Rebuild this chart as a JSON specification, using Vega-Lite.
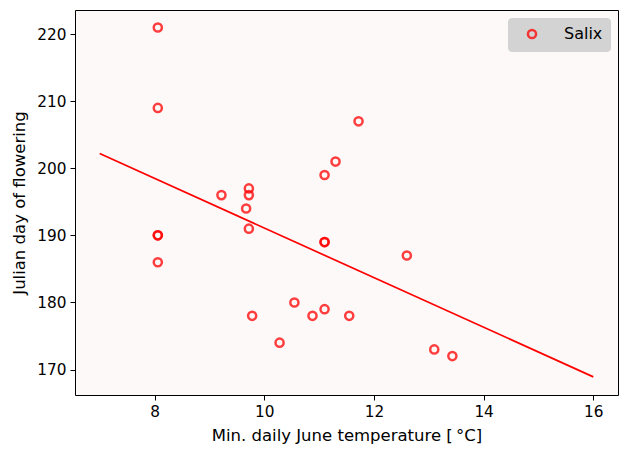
{
  "$schema": "https://vega.github.io/schema/vega-lite/v6.json",
  "autosize": {"type": "none"},
  "padding": {"left": 75, "top": 10, "right": 9, "bottom": 65},
  "width": 543,
  "height": 385,
  "background": "white",
  "config": {
    "font": "DejaVu Sans",
    "view": {"stroke": "black", "strokeWidth": 1, "fill": "#fdf9f9"},
    "axis": {
      "grid": false,
      "domain": false,
      "tickColor": "black",
      "tickSize": 5,
      "labelPadding": 4,
      "labelFontSize": 15.3,
      "labelColor": "black",
      "titleFontSize": 16.5,
      "titleFontWeight": "normal",
      "titleColor": "black"
    }
  },
  "datasets": {
    "obs": [
      {"temp": 8.06, "doy": 221, "species": "Salix"},
      {"temp": 8.06, "doy": 209, "species": "Salix"},
      {"temp": 8.06, "doy": 190, "species": "Salix"},
      {"temp": 8.06, "doy": 190, "species": "Salix"},
      {"temp": 8.06, "doy": 186, "species": "Salix"},
      {"temp": 9.22, "doy": 196, "species": "Salix"},
      {"temp": 9.72, "doy": 197, "species": "Salix"},
      {"temp": 9.72, "doy": 196, "species": "Salix"},
      {"temp": 9.67, "doy": 194, "species": "Salix"},
      {"temp": 9.72, "doy": 191, "species": "Salix"},
      {"temp": 9.78, "doy": 178, "species": "Salix"},
      {"temp": 10.28, "doy": 174, "species": "Salix"},
      {"temp": 10.55, "doy": 180, "species": "Salix"},
      {"temp": 10.88, "doy": 178, "species": "Salix"},
      {"temp": 11.1, "doy": 199, "species": "Salix"},
      {"temp": 11.1, "doy": 189, "species": "Salix"},
      {"temp": 11.1, "doy": 189, "species": "Salix"},
      {"temp": 11.1, "doy": 179, "species": "Salix"},
      {"temp": 11.3, "doy": 201, "species": "Salix"},
      {"temp": 11.55, "doy": 178, "species": "Salix"},
      {"temp": 11.72, "doy": 207, "species": "Salix"},
      {"temp": 12.6, "doy": 187, "species": "Salix"},
      {"temp": 13.1, "doy": 173, "species": "Salix"},
      {"temp": 13.43, "doy": 172, "species": "Salix"}
    ],
    "fit": [
      {"temp": 7, "doy": 202.2},
      {"temp": 16, "doy": 168.9}
    ]
  },
  "layer": [
    {
      "data": {"name": "fit"},
      "mark": {"type": "line", "color": "red", "strokeWidth": 1.7, "clip": true},
      "encoding": {
        "x": {
          "field": "temp", "type": "quantitative",
          "scale": {"domain": [6.55, 16.45], "nice": false, "zero": false},
          "axis": {"values": [8, 10, 12, 14, 16], "title": "Min. daily June temperature [\u2009°C]", "titlePadding": 8}
        },
        "y": {
          "field": "doy", "type": "quantitative",
          "scale": {"domain": [166.2, 223.6], "nice": false, "zero": false},
          "axis": {"values": [170, 180, 190, 200, 210, 220], "title": "Julian day of flowering", "titlePadding": 9}
        }
      }
    },
    {
      "data": {"name": "obs"},
      "mark": {"type": "point", "shape": "circle", "filled": false, "size": 66, "strokeWidth": 2.5, "opacity": 0.75},
      "encoding": {
        "x": {"field": "temp", "type": "quantitative"},
        "y": {"field": "doy", "type": "quantitative"},
        "color": {
          "field": "species", "type": "nominal",
          "scale": {"domain": ["Salix"], "range": ["red"]},
          "legend": {
            "title": null,
            "orient": "top-right",
            "offset": 7.5,
            "fillColor": "lightgray",
            "cornerRadius": 4,
            "padding": 8,
            "symbolOffset": 8,
            "symbolType": "circle",
            "symbolSize": 66,
            "symbolStrokeWidth": 2.5,
            "symbolFillColor": "transparent",
            "symbolOpacity": 0.75,
            "labelFontSize": 16,
            "labelColor": "black",
            "labelOffset": 24,
            "labelLimit": 200
          }
        }
      }
    }
  ]
}
